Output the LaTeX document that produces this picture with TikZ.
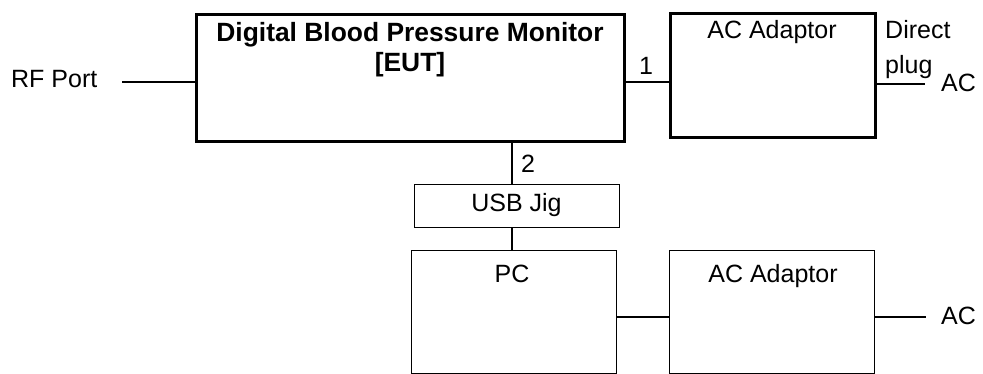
\documentclass[tikz,border=0pt]{standalone}
\usepackage{fontspec}
\setmainfont{Liberation Sans}
\begin{document}
\begin{tikzpicture}[x=1pt,y=-1pt,
  thickbox/.style={draw=black,line width=3pt,fill=white,inner sep=0pt,anchor=north west},
  thinbox/.style={draw=black,line width=1.3pt,fill=white,inner sep=0pt,anchor=north west},
  txt/.style={inner sep=0pt,anchor=base,font=\fontsize{25}{30}\selectfont},
  btxt/.style={inner sep=0pt,anchor=base,font=\fontsize{26.4}{30}\selectfont\bfseries},
  wire/.style={draw=black,line width=1.5pt}]
\useasboundingbox (0,0) rectangle (983,374);
% boxes
\node[thickbox,minimum width=428pt,minimum height=127pt] (eut) at (195,13) {};
\node[thickbox,minimum width=205pt,minimum height=124pt] (aca) at (669,12) {};
\node[thinbox,minimum width=205pt,minimum height=43pt] (usb) at (414,184) {};
\node[thinbox,minimum width=205pt,minimum height=122.5pt] (pc) at (411,250) {};
\node[thinbox,minimum width=205pt,minimum height=122.5pt] (acb) at (669,250) {};
% texts
\node[btxt] (t1) at (410,42) {Digital Blood Pressure Monitor};
\node[btxt] (t2) at (410,72) {[EUT]};
\node[txt] (t3) at (772,39) {AC Adaptor};
\node[txt,anchor=base west] (dir) at (885,39) {Direct};
\node[txt,anchor=base west] (plug) at (885,74) {plug};
\node[txt,anchor=base west] (ac1) at (941,92) {AC};
\node[txt,anchor=base west] (rf) at (11,88) {RF Port};
\node[txt] (n1) at (646,75) {1};
\node[txt] (n2) at (528,173) {2};
\node[txt] (t4) at (516.5,212) {USB Jig};
\node[txt] (t5) at (512,283) {PC};
\node[txt] (t6) at (773,283) {AC Adaptor};
\node[txt,anchor=base west] (ac2) at (941,324) {AC};
% connector helpers
\coordinate (rfend) at (122,82);
\coordinate (y1) at (0,82);
\coordinate (dp) at (925,84);
\coordinate (xl) at (512,0);
\coordinate (y2) at (0,317);
\coordinate (acend) at (926,317);
% connectors
\draw[wire] (rfend) -- (eut.west |- rfend);
\draw[wire] (eut.east |- y1) -- (aca.west |- y1);
\draw[wire] (aca.east |- dp) -- (dp);
\draw[wire] (eut.south -| xl) -- (usb.north -| xl);
\draw[wire] (usb.south -| xl) -- (pc.north -| xl);
\draw[wire] (pc.east |- y2) -- (acb.west |- y2);
\draw[wire] (acb.east |- y2) -- (acend);
\end{tikzpicture}
\end{document}
